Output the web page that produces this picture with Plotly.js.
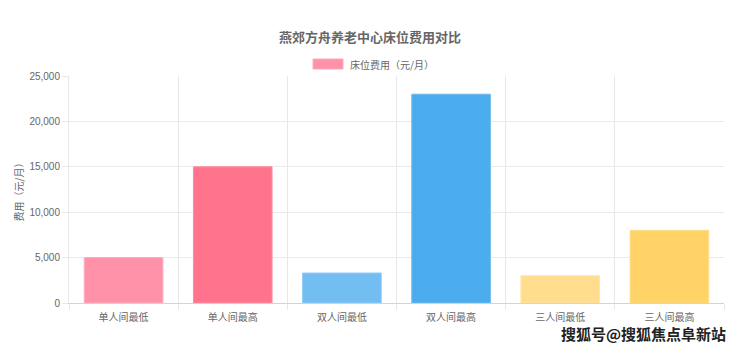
<!DOCTYPE html>
<html>
<head>
<meta charset="utf-8">
<script src="https://cdn.plot.ly/plotly-3.0.1.min.js"></script>
<style>html,body{margin:0;padding:0;background:#fff;}#chart{width:740px;height:351px;}</style>
</head>
<body>
<div id="chart"></div>
<script>
var categories = ["单人间最低", "单人间最高", "双人间最低", "双人间最高", "三人间最低", "三人间最高"];
var costs = [5000, 15000, 3300, 23000, 3000, 8000];
var yTicks = [0, 5000, 10000, 15000, 20000, 25000];
var seriesName = "床位费用（元/月）";

var fills = ["rgb(255,146,168)", "rgb(255,115,141)", "rgb(114,190,243)", "rgb(74,171,237)", "rgb(255,221,141)", "rgb(255,211,103)"];
var borders = ["rgb(255,170,188)", "rgb(255,140,162)", "rgb(140,202,246)", "rgb(110,188,241)", "rgb(255,230,165)", "rgb(255,221,135)"];

var FONT = "Liberation Sans, Arial, Noto Sans CJK SC, sans-serif";

var trace = {
  type: "bar",
  x: categories,
  y: costs,
  name: seriesName,
  marker: {color: fills, line: {color: borders, width: 1}},
  hoverinfo: "x+y",
  showlegend: false
};

var layout = {
  width: 740, height: 351,
  margin: {l: 69, r: 16, t: 76, b: 48},
  paper_bgcolor: "#fff", plot_bgcolor: "#fff",
  font: {family: FONT, color: "#666", size: 10},
  title: {
    text: "<b>燕郊方舟养老中心床位费用对比</b>",
    font: {family: "Noto Sans CJK SC, sans-serif", size: 13, color: "#666"},
    x: 0.5, xanchor: "center", y: 1 - 37/351, yanchor: "middle", yref: "container"
  },
  bargap: 0.28,
  xaxis: {
    type: "category",
    range: [-0.5, 5.5],
    tickson: "boundaries",
    showgrid: true, gridcolor: "#e8e8e8", gridwidth: 1,
    ticks: "outside", ticklen: 6, tickcolor: "#e8e8e8",
    ticklabelstandoff: 5,
    showline: true, linecolor: "#d4d4d4", linewidth: 1,
    tickfont: {family: "Noto Sans CJK SC, sans-serif", size: 10, color: "#666"},
    fixedrange: true
  },
  yaxis: {
    range: [0, 25000],
    tickvals: yTicks,
    tickformat: ",d",
    showgrid: true, gridcolor: "#ebebeb", gridwidth: 1,
    zeroline: false,
    ticks: "outside", ticklen: 6, tickcolor: "#e8e8e8",
    showline: true, linecolor: "#e8e8e8", linewidth: 1,
    tickfont: {family: FONT, size: 10, color: "#666"},
    title: {text: "费用（元/月）", font: {family: "Noto Sans CJK SC, sans-serif", size: 10, color: "#666"}, standoff: 3},
    fixedrange: true
  },
  shapes: [
    {type: "rect", xref: "paper", yref: "paper",
     x0: (313-69)/655, x1: (343-69)/655, y0: (303-69)/227, y1: (303-59)/227,
     fillcolor: "rgb(255,146,168)", line: {color: "rgb(255,170,188)", width: 1}}
  ],
  annotations: [
    {xref: "paper", yref: "paper", x: (348-69)/655, y: (303-64)/227, xanchor: "left", yanchor: "middle",
     text: seriesName, showarrow: false,
     font: {family: "Noto Sans CJK SC, sans-serif", size: 10, color: "#666"}},
    {xref: "paper", yref: "paper", x: (643-69)/655, y: (303-333)/227, xanchor: "center", yanchor: "middle",
     text: "<b>搜狐号@搜狐焦点阜新站</b>", showarrow: false,
     font: {family: "Noto Sans CJK SC, sans-serif", size: 15, color: "#222", shadow: "1px 1px 1px #fff"}}
  ]
};

Plotly.newPlot("chart", [trace], layout, {displayModeBar: false, staticPlot: true});
</script>
</body>
</html>
